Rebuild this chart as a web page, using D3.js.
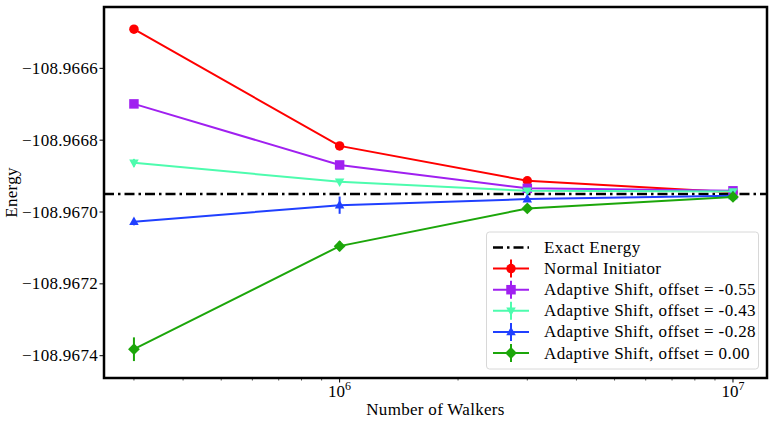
<!DOCTYPE html>
<html><head><meta charset="utf-8">
<script src="https://cdn.jsdelivr.net/npm/d3@7"></script>
<style>body{margin:0;background:#fff}svg{display:block}</style>
</head><body><svg id="c" width="776" height="423" font-family="'Liberation Serif', 'Times New Roman', Times, 'DejaVu Serif', serif"></svg>
<script>
const walkers = [3e5, 1e6, 3e6, 1e7];
const exactEnergy = -108.96695;
const seriesNames = ["Normal Initiator","Adaptive Shift, offset = -0.55","Adaptive Shift, offset = -0.43","Adaptive Shift, offset = -0.28","Adaptive Shift, offset = 0.00"];
const normalInit = [-108.966491, -108.966816, -108.966913, -108.966945];
const normalInitErr = [0.000008, 0.000008, 0.000005, 0.000004];
const offset055 = [-108.966699, -108.966869, -108.966934, -108.966941];
const offset055Err = [0.000011, 0.000010, 0.000005, 0.000004];
const offset043 = [-108.966863, -108.966916, -108.966941, -108.966943];
const offset043Err = [0.000011, 0.000006, 0.000005, 0.000004];
const offset028 = [-108.967027, -108.966981, -108.966964, -108.966955];
const offset028Err = [0.000010, 0.000024, 0.000006, 0.000005];
const offset000 = [-108.967382, -108.967095, -108.966990, -108.966958];
const offset000Err = [0.000033, 0.000014, 0.000006, 0.000005];
const yTicks = [-108.9666, -108.9668, -108.9670, -108.9672, -108.9674];
const xTicks = [1e6, 1e7];

const series = [
  {name: seriesNames[0], v: normalInit, e: normalInitErr, color: "#ff0000", marker: "circle"},
  {name: seriesNames[1], v: offset055, e: offset055Err, color: "#a020f0", marker: "square"},
  {name: seriesNames[2], v: offset043, e: offset043Err, color: "#4dfcae", marker: "tridown"},
  {name: seriesNames[3], v: offset028, e: offset028Err, color: "#2040ff", marker: "triup"},
  {name: seriesNames[4], v: offset000, e: offset000Err, color: "#1ca60a", marker: "diamond"}
];

const svg = d3.select("#c");
const L = 104, R = 767, T = 7, B = 378;
const x = d3.scaleLog().domain([Math.pow(10,5.401), Math.pow(10,7.0865)]).range([L, R]);
const y = d3.scaleLinear().domain([-108.9674 - 22.3/359000, -108.9666 + 61.3/359000]).range([B, T]);

// minor x ticks
const minor = [];
for (let d = 1e5; d < 1e7; d *= 10) for (let k = 2; k <= 9; k++) { const v = k*d; if (v >= x.domain()[0] && v <= x.domain()[1]) minor.push(v); }
svg.append("g").selectAll("line").data(minor).join("line")
  .attr("x1", d => x(d)).attr("x2", d => x(d)).attr("y1", B).attr("y2", B + 2.5)
  .attr("stroke", "#000").attr("stroke-width", 0.7);

// major x ticks
const gx = svg.append("g");
gx.selectAll("line").data(xTicks).join("line")
  .attr("x1", d => x(d)).attr("x2", d => x(d)).attr("y1", B).attr("y2", B + 4.5)
  .attr("stroke", "#000").attr("stroke-width", 1);
const xl = gx.selectAll("text").data(xTicks).join("text")
  .attr("x", d => x(d)).attr("y", 397).attr("text-anchor", "middle").attr("font-size", 17);
xl.append("tspan").text("10");
xl.append("tspan").attr("font-size", 12).attr("dy", -7).text(d => Math.round(Math.log10(d)));

// y ticks
const gy = svg.append("g");
gy.selectAll("line").data(yTicks).join("line")
  .attr("x1", L - 4.5).attr("x2", L).attr("y1", d => y(d)).attr("y2", d => y(d))
  .attr("stroke", "#000").attr("stroke-width", 1);
gy.selectAll("text").data(yTicks).join("text")
  .attr("x", L - 6).attr("y", d => y(d) + 5.5).attr("text-anchor", "end").attr("font-size", 17)
  .attr("letter-spacing", 0.3)
  .text(d => "\u2212" + Math.abs(d).toFixed(4));

// axis labels
svg.append("text").attr("x", (L + R) / 2).attr("y", 415).attr("text-anchor", "middle").attr("font-size", 17).attr("letter-spacing", 0.3).text("Number of Walkers");
svg.append("text").attr("transform", `translate(17,${(T + B) / 2}) rotate(-90)`).attr("text-anchor", "middle").attr("font-size", 17).attr("letter-spacing", 0.3).text("Energy");

// clip
svg.append("clipPath").attr("id", "clip").append("rect").attr("x", L).attr("y", T).attr("width", R - L).attr("height", B - T);
const plot = svg.append("g").attr("clip-path", "url(#clip)");

// exact energy line
plot.append("line").attr("x1", L).attr("x2", R).attr("y1", y(exactEnergy)).attr("y2", y(exactEnergy))
  .attr("stroke", "#000").attr("stroke-width", 2.5).attr("stroke-dasharray", "10,4,2.5,4");

function markerPath(type, s) {
  switch (type) {
    case "circle": return d3.symbol(d3.symbolCircle, s * s * Math.PI / 4)();
    case "square": return `M${-s/2},${-s/2}h${s}v${s}h${-s}z`;
    case "tridown": return `M${-s/2},${-s*0.35}L${s/2},${-s*0.35}L0,${s*0.55}z`;
    case "triup": return `M${-s/2},${s*0.35}L${s/2},${s*0.35}L0,${-s*0.55}z`;
    case "diamond": return `M0,${-s*0.62}L${s*0.62},0L0,${s*0.62}L${-s*0.62},0z`;
  }
}

const line = d3.line().x((d, i) => x(walkers[i])).y(d => y(d));
series.forEach(s => {
  const g = plot.append("g");
  g.append("path").attr("d", line(s.v)).attr("fill", "none").attr("stroke", s.color).attr("stroke-width", 2);
  g.selectAll("line.err").data(s.v).join("line").attr("class", "err")
    .attr("x1", (d, i) => x(walkers[i])).attr("x2", (d, i) => x(walkers[i]))
    .attr("y1", (d, i) => y(d - s.e[i])).attr("y2", (d, i) => y(d + s.e[i]))
    .attr("stroke", s.color).attr("stroke-width", 2);
  g.selectAll("path.m").data(s.v).join("path").attr("class", "m")
    .attr("transform", (d, i) => `translate(${x(walkers[i])},${y(d)})`)
    .attr("d", markerPath(s.marker, 9.5)).attr("fill", s.color);
});

// frame
svg.append("rect").attr("x", L).attr("y", T).attr("width", R - L).attr("height", B - T)
  .attr("fill", "none").attr("stroke", "#000").attr("stroke-width", 2.5);

// legend
const lg = svg.append("g");
lg.append("rect").attr("x", 486.5).attr("y", 232).attr("width", 272).attr("height", 137).attr("rx", 3)
  .attr("fill", "#fff").attr("fill-opacity", 0.85).attr("stroke", "#d8d8d8").attr("stroke-width", 1);
const rowY = i => 247.5 + i * 21.1;
const hx1 = 493, hx2 = 529, tx = 544;
lg.append("line").attr("x1", hx1).attr("x2", hx2).attr("y1", rowY(0)).attr("y2", rowY(0))
  .attr("stroke", "#000").attr("stroke-width", 2.5).attr("stroke-dasharray", "10,4,2.5,4");
lg.append("text").attr("x", tx).attr("y", rowY(0) + 5.5).attr("font-size", 17).attr("letter-spacing", 0.4).text("Exact Energy");
series.forEach((s, k) => {
  const yy = rowY(k + 1);
  lg.append("line").attr("x1", hx1).attr("x2", hx2).attr("y1", yy).attr("y2", yy).attr("stroke", s.color).attr("stroke-width", 2);
  lg.append("line").attr("x1", (hx1 + hx2) / 2).attr("x2", (hx1 + hx2) / 2).attr("y1", yy - 9).attr("y2", yy + 9).attr("stroke", s.color).attr("stroke-width", 2);
  lg.append("path").attr("transform", `translate(${(hx1 + hx2) / 2},${yy})`).attr("d", markerPath(s.marker, 9.5)).attr("fill", s.color);
  lg.append("text").attr("x", tx).attr("y", yy + 5.5).attr("font-size", 17).attr("letter-spacing", 0.4).text(s.name);
});
</script></body></html>
